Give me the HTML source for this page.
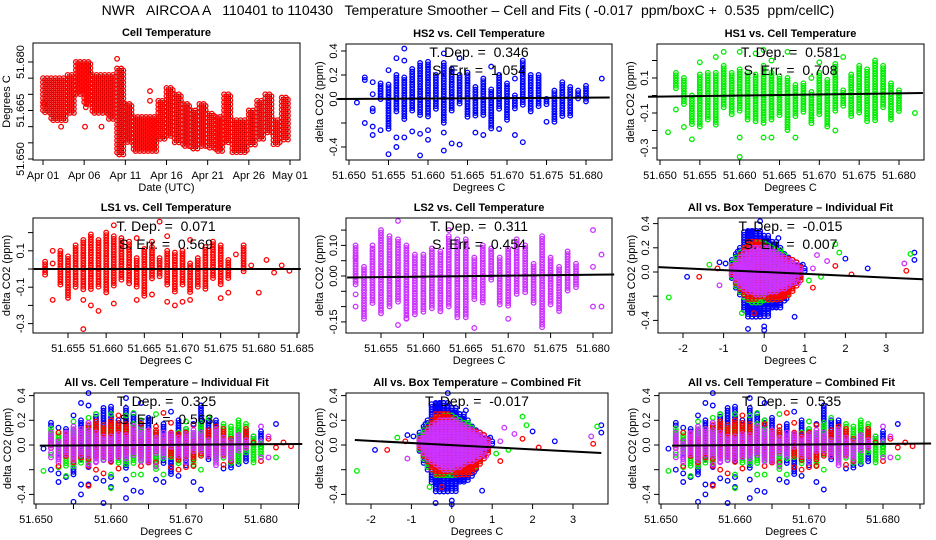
<!DOCTYPE html>
<html><head><meta charset="utf-8"><style>
html,body{margin:0;padding:0;background:#fff;}
svg{display:block;font-family:"Liberation Sans",sans-serif;}
text{white-space:pre;}
</style></head><body>
<svg id="c" width="936" height="540" viewBox="0 0 936 540" xmlns="http://www.w3.org/2000/svg">
<rect width="936" height="540" fill="#fff"/>
<text x="468" y="15" text-anchor="middle" font-size="14">NWR   AIRCOA A   110401 to 110430   Temperature Smoother – Cell and Fits ( -0.017  ppm/boxC +  0.535  ppm/cellC)</text>
<g id="plots"></g>
</svg>
<script>
var dayLo=[51.664,51.662,51.662,51.664,51.670,51.667,51.664,51.664,51.662,51.651,51.655,51.652,51.652,51.652,51.656,51.657,51.655,51.654,51.653,51.654,51.653,51.652,51.655,51.652,51.652,51.654,51.656,51.658,51.654,51.656];
var dayHi=[51.675,51.675,51.675,51.676,51.680,51.680,51.676,51.676,51.676,51.678,51.667,51.663,51.663,51.663,51.668,51.672,51.670,51.667,51.665,51.667,51.664,51.663,51.670,51.662,51.662,51.665,51.668,51.670,51.662,51.669];
var tsOutX=[2.2,5.1,7.1,13.0,13.0,9.0,0.1,5.2];
var tsOutY=[51.660,51.660,51.660,51.671,51.668,51.681,51.667,51.666];
var dayLabels=["Apr 01","Apr 06","Apr 11","Apr 16","Apr 21","Apr 26","May 01"];

var cellTemps=[51.651,51.652,51.653,51.654,51.655,51.656,51.657,51.658,51.659,51.660,51.661,51.662,51.663,51.664,51.665,51.666,51.667,51.668,51.669,51.670,51.671,51.672,51.673,51.674,51.675,51.676,51.677,51.678,51.679,51.680,51.681,51.682,51.683,51.684];
var hs2Lo=[null,0.14,-0.12,0.0,-0.25,-0.12,-0.18,-0.1,-0.14,-0.15,-0.1,-0.2,-0.1,-0.05,-0.15,-0.15,-0.15,-0.25,-0.1,-0.18,-0.08,-0.05,-0.12,-0.08,-0.06,-0.2,-0.16,-0.14,0.0,-0.03,null,null,null,null];
var hs2Hi=[null,0.18,-0.08,0.13,0.12,0.2,0.18,0.25,0.3,0.31,0.2,0.3,0.25,0.2,0.22,0.1,0.17,0.08,0.2,0.13,0.03,0.32,0.2,0.2,0.0,0.07,0.14,0.1,0.07,0.11,null,null,null,null];
var hs2OutX=[51.651,51.652,51.653,51.653,51.653,51.653,51.654,51.655,51.655,51.656,51.656,51.656,51.657,51.657,51.657,51.658,51.659,51.659,51.660,51.660,51.662,51.662,51.662,51.663,51.664,51.664,51.666,51.667,51.668,51.669,51.671,51.671,51.672,51.675,51.682];
var hs2OutY=[-0.03,-0.2,0.14,0.04,-0.23,-0.3,-0.26,0.24,-0.46,-0.32,0.34,-0.4,0.32,-0.32,0.42,-0.27,-0.29,-0.47,-0.26,-0.34,-0.28,-0.43,0.38,-0.37,-0.38,0.34,-0.28,-0.3,0.27,-0.25,0.17,-0.3,-0.36,-0.19,0.17];

var hs1Lo=[null,0.04,-0.06,-0.17,-0.18,-0.15,-0.18,-0.08,-0.12,-0.1,-0.15,-0.16,-0.16,-0.14,-0.12,-0.2,-0.12,-0.1,-0.16,-0.12,-0.18,-0.09,-0.06,-0.12,-0.11,-0.15,-0.15,-0.08,-0.14,-0.1,null,null,null,null];
var hs1Hi=[null,0.13,0.1,0.0,0.12,0.13,0.13,0.17,0.13,0.15,0.13,0.12,0.17,0.13,0.11,0.1,0.06,0.07,0.02,0.13,0.09,0.18,0.03,0.12,0.17,0.15,0.2,0.17,0.07,0.03,null,null,null,null];
var hs1OutX=[51.651,51.652,51.653,51.654,51.655,51.657,51.658,51.660,51.660,51.660,51.662,51.663,51.663,51.664,51.664,51.666,51.667,51.669,51.670,51.672,51.673,51.682];
var hs1OutY=[-0.21,-0.08,-0.18,-0.25,0.19,0.22,0.25,0.25,-0.24,-0.35,0.24,0.26,-0.24,0.2,-0.24,0.25,-0.24,0.1,0.19,-0.2,0.22,-0.1];

var ls1Lo=[null,-0.04,0.03,-0.09,-0.16,-0.11,-0.12,-0.11,-0.1,-0.14,-0.1,-0.07,-0.08,-0.1,-0.15,-0.06,-0.04,-0.09,-0.13,-0.09,-0.13,-0.1,-0.11,-0.06,-0.09,-0.05,0.08,-0.02,0.02,null,0.05,-0.02,0.02,-0.01];
var ls1Hi=[null,0.04,0.03,0.1,0.07,0.13,0.16,0.19,0.16,0.2,0.18,0.17,0.15,0.06,0.11,0.12,0.06,0.1,0.09,0.1,0.03,0.06,0.12,0.15,0.13,0.05,0.08,0.13,0.02,null,0.05,-0.02,0.02,-0.01];
var ls1OutX=[51.653,51.653,51.657,51.657,51.658,51.659,51.661,51.661,51.664,51.664,51.666,51.666,51.667,51.668,51.668,51.669,51.670,51.671,51.671,51.675,51.676,51.680];
var ls1OutY=[0.1,-0.17,-0.17,-0.33,-0.2,-0.23,0.24,-0.19,0.17,-0.17,0.15,-0.14,0.26,0.18,-0.18,-0.2,-0.18,0.16,-0.17,-0.16,-0.13,-0.13];

var ls2Lo=[null,-0.03,-0.14,-0.09,-0.13,-0.1,-0.09,-0.14,-0.13,-0.12,-0.11,-0.12,-0.1,-0.14,-0.14,-0.08,-0.09,-0.02,-0.1,-0.1,-0.06,-0.06,-0.09,-0.17,-0.1,-0.12,-0.05,-0.04,null,null,null,null,null,null];
var ls2Hi=[null,0.1,0.03,0.09,0.15,0.13,0.12,0.1,0.07,0.07,0.09,0.08,0.13,0.12,0.12,0.06,0.1,0.09,0.06,0.09,0.12,0.1,0.04,0.13,0.06,0.03,0.08,0.04,null,null,null,null,null,null];
var ls2OutX=[51.652,51.652,51.652,51.654,51.657,51.657,51.658,51.663,51.666,51.670,51.680,51.680,51.680,51.681,51.681];
var ls2OutY=[-0.06,-0.1,0.06,0.1,0.18,-0.16,-0.14,0.15,-0.17,-0.14,-0.1,0.03,0.15,-0.1,0.07];

var boxCols=[-0.7,-0.6,-0.5,-0.4,-0.3,-0.2,-0.1,0.0,0.1,0.2,0.3,0.4,0.5,0.6,0.7,0.8,0.9];
var boxBlueLo=[-0.05,-0.15,-0.2,-0.32,-0.38,-0.38,-0.35,-0.38,-0.3,-0.3,-0.3,-0.25,-0.2,-0.15,-0.1,-0.05,0.0];
var boxBlueHi=[0.1,0.15,0.2,0.33,0.34,0.34,0.3,0.3,0.25,0.25,0.2,0.15,0.12,0.1,0.08,0.05,0.03];
var boxGreenLo=[-0.05,-0.12,-0.18,-0.22,-0.25,-0.26,-0.25,-0.25,-0.24,-0.22,-0.22,-0.2,-0.18,-0.15,-0.1,-0.06,null];
var boxGreenHi=[0.07,0.12,0.16,0.2,0.22,0.22,0.24,0.22,0.2,0.18,0.18,0.14,0.1,0.08,0.06,0.02,null];
var boxRedLo=[-0.02,-0.1,-0.15,-0.2,-0.24,-0.22,-0.2,-0.2,-0.22,-0.24,-0.24,-0.22,-0.2,-0.16,-0.12,-0.08,null];
var boxRedHi=[0.04,0.08,0.14,0.2,0.25,0.25,0.22,0.2,0.18,0.16,0.14,0.12,0.11,0.1,0.08,0.04,null];
var boxMagLo=[-0.02,-0.08,-0.12,-0.15,-0.17,-0.18,-0.2,-0.18,-0.18,-0.17,-0.15,-0.15,-0.12,-0.1,-0.06,-0.03,null];
var boxMagHi=[0.05,0.08,0.12,0.16,0.18,0.2,0.2,0.2,0.18,0.16,0.14,0.12,0.1,0.08,0.06,0.03,null];
var boxBlueOutX=[-1.9,-1.1,-0.95,0.95,2.55,3.7,3.7,2.0,0.75,0.0,0.0,-0.4,-0.1,0.35,-0.65,0.55];
var boxBlueOutY=[-0.04,0.08,0.07,0.06,0.03,0.16,0.1,0.11,-0.37,-0.45,-0.48,-0.47,0.42,0.28,0.17,-0.22];
var boxGreenOutX=[-2.35,-1.35,-0.55,1.1,1.4,1.75,1.85,3.6];
var boxGreenOutY=[-0.21,0.06,-0.34,-0.07,-0.04,0.23,0.16,0.15];
var boxRedOutX=[-1.6,-1.15,-0.8,1.2,1.75,2.15,3.5,-0.25,-0.2];
var boxRedOutY=[-0.04,0.03,-0.02,-0.13,0.05,-0.02,0.01,-0.34,0.25];
var boxMagOutX=[-1.1,1.3,1.55,1.2,3.45,0.85];
var boxMagOutY=[-0.11,0.14,0.09,0.03,0.07,-0.09];

(function(){
var NSX="http://www.w3.org/2000/svg";
var root=document.getElementById('plots');
while(root.firstChild) root.removeChild(root.firstChild);
function mk(tag,attrs,parent){var e=document.createElementNS(NSX,tag);for(var k in attrs)e.setAttribute(k,attrs[k]);(parent||root).appendChild(e);return e;}
function lin(v0,p0,v1,p1){return function(v){return p0+(v-v0)*(p1-p0)/(v1-v0);};}
var CLR={blue:"#0000ff",green:"#00ee00",red:"#ff0000",mag:"#cc33ff"};

function panel(p){
  var g=mk('g',{});
  
  
  p.g=g;
  var area=mk('g',{},g);
  
  
  p.area=area;
  return p;
}
function axes(p){
  var g=p.g;
  var box=mk('rect',{x:p.L,y:p.T,width:p.R-p.L,height:p.B-p.T,fill:'none',stroke:'#000','stroke-width':1},g);
  
  
  var t=mk('text',{x:(p.L+p.R)/2,y:p.T-7,'text-anchor':'middle','font-size':11,'font-weight':'bold'},g);
  t.textContent=p.title;
  
  
  var x0=p.sx(p.xTicks[0]),x1=p.sx(p.xTicks[p.xTicks.length-1]);
  mk('line',{x1:x0,x2:x1,y1:p.B,y2:p.B,stroke:'#000'},g);
  p.xTicks.forEach(function(v,i){
    var x=p.sx(v);
    mk('line',{x1:x,x2:x,y1:p.B,y2:p.B+5,stroke:'#000'},g);
    var lab=p.xLabels[i];
    if(lab){var tx=mk('text',{x:x,y:p.B+19,'text-anchor':'middle','font-size':11},g);tx.textContent=lab;
      
      }
  });
  var xt=mk('text',{x:(p.L+p.R)/2,y:p.B+31,'text-anchor':'middle','font-size':11},g);
  xt.textContent=p.xTitle;
  
  
  var y0=p.sy(p.yTicks[0]),y1=p.sy(p.yTicks[p.yTicks.length-1]);
  mk('line',{x1:p.L,x2:p.L,y1:y0,y2:y1,stroke:'#000'},g);
  p.yTicks.forEach(function(v,i){
    var y=p.sy(v);
    mk('line',{x1:p.L-5,x2:p.L,y1:y,y2:y,stroke:'#000'},g);
    var lab=p.yLabels[i];
    if(lab){var tx=mk('text',{x:p.L-9,y:y,'text-anchor':'middle','font-size':11,transform:'rotate(-90 '+(p.L-9)+' '+y+')'},g);tx.textContent=lab;
      
      }
  });
  var cy=(p.T+p.B)/2;
  var yt=mk('text',{x:p.L-23,y:cy,'text-anchor':'middle','font-size':11,transform:'rotate(-90 '+(p.L-23)+' '+cy+')'},g);
  yt.textContent=p.yTitle;
  
  
}
function fit(p,xa,ya,xb,yb){
  var l=mk('line',{x1:p.sx(xa),y1:p.sy(ya),x2:p.sx(xb),y2:p.sy(yb),stroke:'#000','stroke-width':2},p.g);
  
  
}
function stats(p,lines){
  lines.forEach(function(s,i){
    var t=mk('text',{x:(p.L+p.R)/2,y:p.T+13+i*18,'text-anchor':'middle','font-size':14},p.g);
    t.textContent=s;
    
    
  });
}
function pt(p,x,y,color){
  mk('circle',{cx:x.toFixed(1),cy:y.toFixed(1),r:2.3,fill:'none',stroke:color,'stroke-width':1.3},p.area);
}
function inside(p,x,y){return x>=p.L-1&&x<=p.R+1&&y>=p.T-1&&y<=p.B+1;}
function columns(p,xv,lo,hi,color,jit){
  var offs=jit||[0];
  for(var i=0;i<xv.length;i++){
    if(lo[i]==null||hi[i]==null)continue;
    var x=p.sx(xv[i]);
    var ya=p.sy(hi[i]),yb=p.sy(lo[i]);
    for(var k=0;k<offs.length;k++){
      for(var y=ya;y<=yb+0.1;y+=2.6){ if(inside(p,x+offs[k],y)) pt(p,x+offs[k],y,color); }
    }
  }
}
function outs(p,xv,yv,color){
  for(var i=0;i<xv.length;i++){var x=p.sx(xv[i]),y=p.sy(yv[i]);if(inside(p,x,y))pt(p,x,y,color);}
}
function cellAll(p){
  columns(p,cellTemps,hs2Lo,hs2Hi,CLR.blue);outs(p,hs2OutX,hs2OutY,CLR.blue);
  columns(p,cellTemps,hs1Lo,hs1Hi,CLR.green);outs(p,hs1OutX,hs1OutY,CLR.green);
  columns(p,cellTemps,ls1Lo,ls1Hi,CLR.red);outs(p,ls1OutX,ls1OutY,CLR.red);
  columns(p,cellTemps,ls2Lo,ls2Hi,CLR.mag);outs(p,ls2OutX,ls2OutY,CLR.mag);
}
function boxAll(p){
  var j=[-4,0,4];
  columns(p,boxCols,boxBlueLo,boxBlueHi,CLR.blue,j);outs(p,boxBlueOutX,boxBlueOutY,CLR.blue);
  columns(p,boxCols,boxGreenLo,boxGreenHi,CLR.green,j);outs(p,boxGreenOutX,boxGreenOutY,CLR.green);
  columns(p,boxCols,boxRedLo,boxRedHi,CLR.red,j);outs(p,boxRedOutX,boxRedOutY,CLR.red);
  columns(p,boxCols,boxMagLo,boxMagHi,CLR.mag,j);outs(p,boxMagOutX,boxMagOutY,CLR.mag);
}
var cT=[51.650,51.655,51.660,51.665,51.670,51.675,51.680];
var cTL=["51.650","51.655","51.660","51.665","51.670","51.675","51.680"];
var yT4=[-0.4,-0.2,0,0.2,0.4];
var yL4=["-0.4","","0.0","0.2","0.4"];

var p1=panel({name:'cell-temperature-panel',L:33,T:43,R:300,B:160,sx:lin(0,43,30,290),sy:lin(51.650,159,51.680,62),
  title:'Cell Temperature',xTitle:'Date (UTC)',yTitle:'Degrees C',
  xTicks:[0,5,10,15,20,25,30],xLabels:dayLabels,
  yTicks:[51.650,51.655,51.660,51.665,51.670,51.675,51.680],yLabels:["51.650","","","51.665","","","51.680"]});
for(var d=0;d<dayLo.length;d++){
  for(var f=0;f<0.99;f+=0.25){
    var x=p1.sx(d+f),ya=p1.sy(dayHi[d]),yb=p1.sy(dayLo[d]);
    var off=(f*8)%4;
    for(var y=ya+off;y<=yb+0.1;y+=4){mk('circle',{cx:x.toFixed(1),cy:y.toFixed(1),r:0.7,fill:'#000'},p1.area);pt(p1,x,y,CLR.red);}
  }
}
for(var i=0;i<tsOutX.length;i++) pt(p1,p1.sx(tsOutX[i]),p1.sy(tsOutY[i]),CLR.red);
axes(p1);

var p2=panel({name:'hs2-panel',L:346,T:44,R:612,B:160,sx:lin(51.650,349,51.680,586),sy:lin(0,99,0.4,51),
  title:'HS2 vs. Cell Temperature',xTitle:'Degrees C',yTitle:'delta CO2 (ppm)',xTicks:cT,xLabels:cTL,yTicks:yT4,yLabels:yL4});
columns(p2,cellTemps,hs2Lo,hs2Hi,CLR.blue);outs(p2,hs2OutX,hs2OutY,CLR.blue);
fit(p2,51.6485,0.0,51.6830,0.012);axes(p2);stats(p2,["T. Dep. =  0.346","S. Err. =  1.054"]);

var p3=panel({name:'hs1-panel',L:657,T:44,R:924,B:160,sx:lin(51.650,660,51.680,899),sy:lin(0,95.5,0.1,78),
  title:'HS1 vs. Cell Temperature',xTitle:'Degrees C',yTitle:'delta CO2 (ppm)',xTicks:cT,xLabels:cTL,
  yTicks:[-0.3,-0.2,-0.1,0,0.1,0.2],yLabels:["-0.3","","-0.1","","0.1",""]});
columns(p3,cellTemps,hs1Lo,hs1Hi,CLR.green);outs(p3,hs1OutX,hs1OutY,CLR.green);
fit(p3,51.6485,-0.007,51.6830,0.014);axes(p3);stats(p3,["T. Dep. =  0.581","S. Err. =  0.708"]);

var p4=panel({name:'ls1-panel',L:33,T:218,R:299,B:333,sx:lin(51.655,68,51.685,297),sy:lin(0,269,0.1,250.8),
  title:'LS1 vs. Cell Temperature',xTitle:'Degrees C',yTitle:'delta CO2 (ppm)',
  xTicks:[51.655,51.660,51.665,51.670,51.675,51.680,51.685],xLabels:["51.655","51.660","51.665","51.670","51.675","51.680","51.685"],
  yTicks:[-0.3,-0.2,-0.1,0,0.1,0.2],yLabels:["-0.3","","-0.1","","0.1",""]});
columns(p4,cellTemps,ls1Lo,ls1Hi,CLR.red);outs(p4,ls1OutX,ls1OutY,CLR.red);
fit(p4,51.6505,0.0,51.6855,0.0);axes(p4);stats(p4,["T. Dep. =  0.071","S. Err. =  0.569"]);

var p5=panel({name:'ls2-panel',L:346,T:218,R:612,B:333,sx:lin(51.655,381,51.680,593),sy:lin(0,276,0.05,260.7),
  title:'LS2 vs. Cell Temperature',xTitle:'Degrees C',yTitle:'delta CO2 (ppm)',
  xTicks:[51.655,51.660,51.665,51.670,51.675,51.680],xLabels:["51.655","51.660","51.665","51.670","51.675","51.680"],
  yTicks:[-0.15,-0.10,-0.05,0,0.05,0.10,0.15],yLabels:["-0.15","","","0.00","","0.10",""]});
columns(p5,cellTemps,ls2Lo,ls2Hi,CLR.mag);outs(p5,ls2OutX,ls2OutY,CLR.mag);
fit(p5,51.6510,-0.005,51.6825,0.005);axes(p5);stats(p5,["T. Dep. =  0.311","S. Err. =  0.454"]);

var p6=panel({name:'all-box-individual-panel',L:658,T:218,R:923,B:333,sx:lin(-2,683,3,886),sy:lin(0,272,0.2,247.8),
  title:'All vs. Box Temperature – Individual Fit',xTitle:'Degrees C',yTitle:'delta CO2 (ppm)',
  xTicks:[-2,-1,0,1,2,3],xLabels:["-2","-1","0","1","2","3"],yTicks:yT4,yLabels:yL4});
boxAll(p6);fit(p6,-2.6,0.04,3.9,-0.06);axes(p6);stats(p6,["T. Dep. =  -0.015","S. Err. =  0.007"]);

var p7=panel({name:'all-cell-individual-panel',L:34,T:393,R:299,B:504,sx:lin(51.650,36,51.660,111),sy:lin(0,445,0.2,420.3),
  title:'All vs. Cell Temperature – Individual Fit',xTitle:'Degrees C',yTitle:'delta CO2 (ppm)',
  xTicks:[51.650,51.655,51.660,51.665,51.670,51.675,51.680,51.685],xLabels:["51.650","","51.660","","51.670","","51.680",""],yTicks:yT4,yLabels:yL4});
cellAll(p7);fit(p7,51.6505,-0.005,51.6855,0.008);axes(p7);stats(p7,["T. Dep. =  0.325","S. Err. =  0.563"]);

var p8=panel({name:'all-box-combined-panel',L:346,T:393,R:608,B:504,sx:lin(-2,371,3,573),sy:lin(0,445,0.2,420.3),
  title:'All vs. Box Temperature – Combined Fit',xTitle:'Degrees C',yTitle:'delta CO2 (ppm)',
  xTicks:[-2,-1,0,1,2,3],xLabels:["-2","-1","0","1","2","3"],yTicks:yT4,yLabels:yL4});
boxAll(p8);fit(p8,-2.4,0.04,3.7,-0.065);axes(p8);stats(p8,["T. Dep. =  -0.017"]);

var p9=panel({name:'all-cell-combined-panel',L:659,T:393,R:924,B:504,sx:lin(51.650,661,51.660,735),sy:lin(0,445,0.2,420.3),
  title:'All vs. Cell Temperature – Combined Fit',xTitle:'Degrees C',yTitle:'delta CO2 (ppm)',
  xTicks:[51.650,51.655,51.660,51.665,51.670,51.675,51.680,51.685],xLabels:["51.650","","51.660","","51.670","","51.680",""],yTicks:yT4,yLabels:yL4});
cellAll(p9);fit(p9,51.6515,-0.005,51.6865,0.012);axes(p9);stats(p9,["T. Dep. =  0.535"]);
})();
</script>
</body></html>
